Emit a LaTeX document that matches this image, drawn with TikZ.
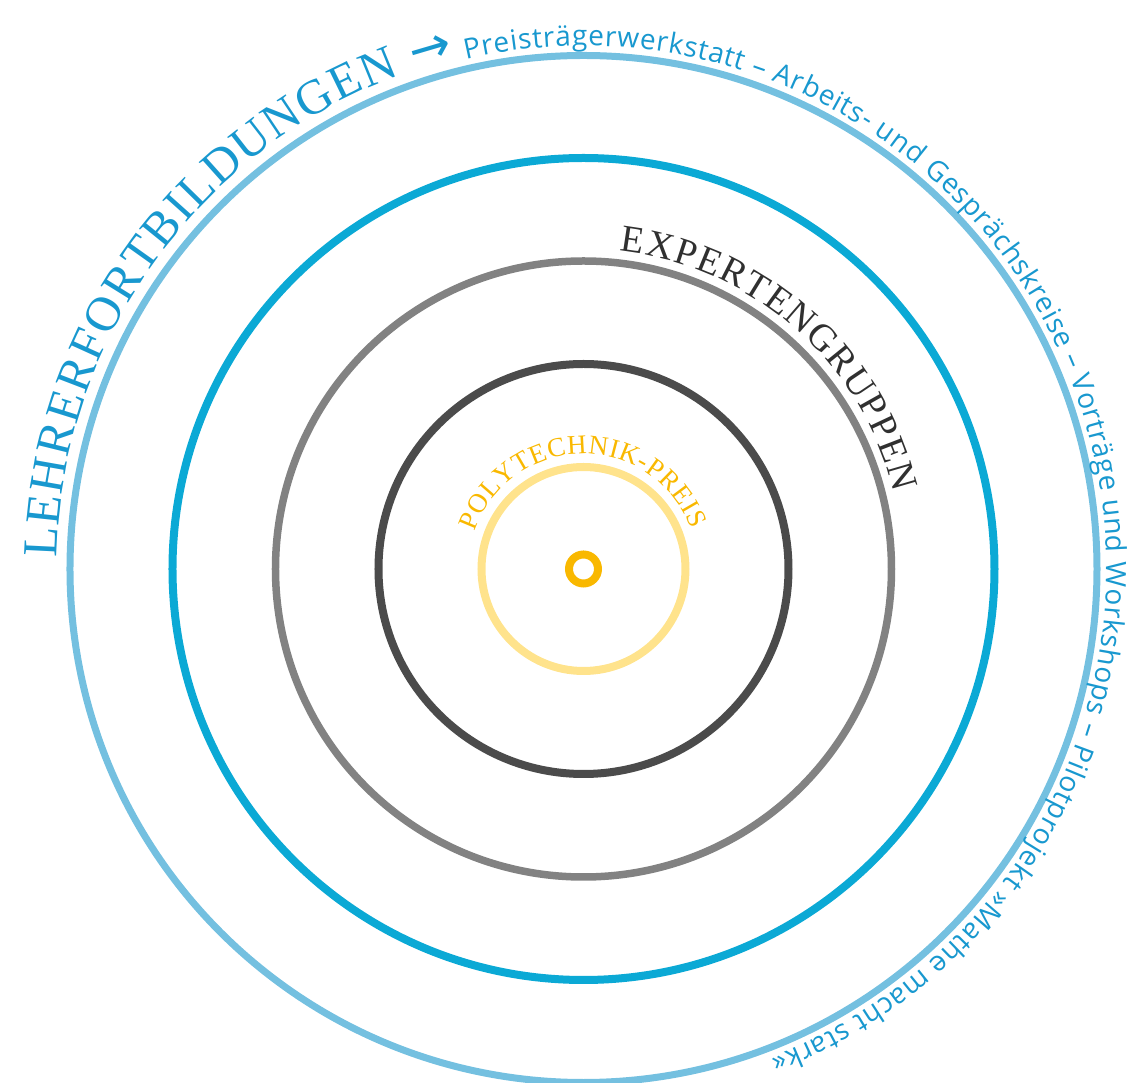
\documentclass[tikz,border=0pt]{standalone}
\usepackage{fontspec}
\setmainfont{Liberation Serif}
\newfontfamily\ringsans{Open Sans}
\newfontfamily\arrowsans{DejaVu Sans}
\usetikzlibrary{decorations.text}

\definecolor{ringlight}{HTML}{74C0E0}
\definecolor{ringblue}{HTML}{0BA9D5}
\definecolor{ringgray}{HTML}{828282}
\definecolor{ringdark}{HTML}{4B4B4B}
\definecolor{ringyellow}{HTML}{FFE38C}
\definecolor{prizegold}{HTML}{F9B800}
\definecolor{textblue}{HTML}{1898CF}
\definecolor{textdark}{HTML}{303030}

\tikzset{
  ring/.style={line width=#1},
  ringtext/.style={decorate, decoration={text along path, #1}}
}

\begin{document}
\begin{tikzpicture}[x=1pt,y=1pt]
\useasboundingbox (-583.5,-514) rectangle (554.5,569);

\draw [ringlight, ring=7] (0,0) circle [radius=513.5];
\draw [ringblue, ring=8] (0,0) circle [radius=411];
\draw [ringgray, ring=7.5] (0,0) circle [radius=308];
\draw [ringdark, ring=8] (0,0) circle [radius=205];
\draw [ringyellow, ring=8] (0,0) circle [radius=102];
\draw [prizegold, ring=8] (0,0) circle [radius=14.5];

\path [ringtext={text align=fit to path, text color=textblue,
  text={|\fontsize{49}{49}\selectfont|LEHRERFORTBILDUNGEN |\arrowsans\fontsize{50}{50}\selectfont|→}}]
  (178.8:527) arc [start angle=178.8, end angle=104.2, radius=527];

\path [ringtext={text align=fit to path, text color=textblue,
  text={|\ringsans\fontsize{28}{28}\selectfont|Preisträgerwerkstatt – Arbeits- und Gesprächskreise – Vorträge und Workshops – Pilotprojekt »Mathe macht stark«}}]
  (103:523) arc [start angle=103, end angle=-69, radius=523];

\path [ringtext={text align=fit to path, text color=textdark,
  text={|\fontsize{38}{38}\selectfont|EXPERTENGRUPPEN}}]
  (83.5:320) arc [start angle=83.5, end angle=13.8, radius=320];

\path [ringtext={text align=fit to path, text color=prizegold,
  text={|\fontsize{27}{27}\selectfont|POLYTECHNIK-PREIS}}]
  (161:115) arc [start angle=161, end angle=20, radius=115];
\end{tikzpicture}
\end{document}
